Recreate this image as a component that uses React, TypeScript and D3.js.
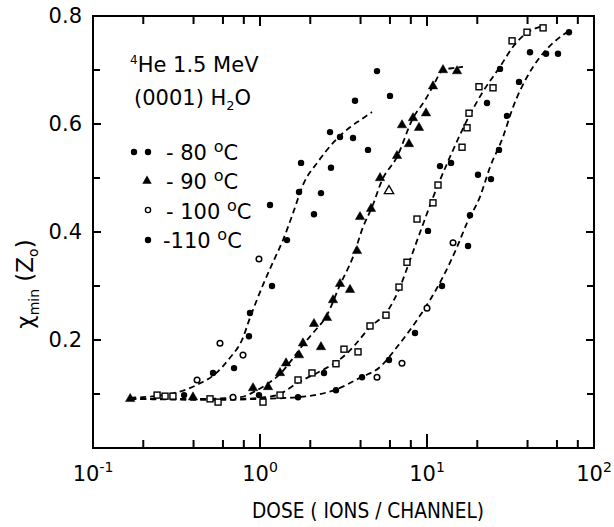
import React from 'react';
import * as d3 from 'd3';

const W = 614;
const H = 527;
const M = { left: 93, right: 20, top: 16, bottom: 79 };

const X_DOMAIN: [number, number] = [0.1, 100];
const Y_DOMAIN: [number, number] = [0, 0.8];
const X_MAJOR = [0.1, 1, 10, 100];
const X_MAJOR_EXP = ['-1', '0', '1', '2'];
const X_MINOR = [0.2, 0.4, 0.6, 0.8, 2, 4, 6, 8, 20, 40, 60, 80];
const Y_MAJOR = [0.2, 0.4, 0.6, 0.8];
const Y_LABELS = ['0.2', '0.4', '0.6', '0.8'];
const Y_MINOR = [0.1, 0.3, 0.5, 0.7];

const LEGEND_LABELS = ['- 80', '- 90', '- 100', '-110'];

// -80 °C (filled)
const m80: [number, number][] = [
  [0.351, 0.098], [0.523, 0.139], [0.699, 0.148], [0.859, 0.207], [0.871, 0.25],
  [1.18, 0.3], [1.148, 0.45], [1.451, 0.385], [1.713, 0.474], [2.318, 0.472],
  [2.105, 0.433], [1.761, 0.528], [2.661, 0.519], [2.626, 0.585], [3.013, 0.576],
  [3.706, 0.643], [3.606, 0.574], [4.433, 0.552], [5.02, 0.698], [6.004, 0.652],
];
// -80 °C (open)
const m80open: [number, number][] = [
  [0.42, 0.126], [0.576, 0.194], [0.791, 0.172], [0.986, 0.35], [0.689, 0.094],
];
// -90 °C (triangles)
const m90: [number, number][] = [
  [0.167, 0.091], [0.397, 0.094], [0.908, 0.111], [1.117, 0.113], [1.318, 0.139],
  [1.432, 0.157], [1.713, 0.172], [1.808, 0.194], [2.318, 0.187], [2.105, 0.23],
  [2.518, 0.241], [2.736, 0.274], [3.013, 0.304], [3.459, 0.293], [3.81, 0.365],
  [3.971, 0.428], [4.621, 0.443], [5.233, 0.5], [6.612, 0.541], [7.8, 0.563],
  [7.083, 0.598], [8.957, 0.593], [8.245, 0.611], [9.864, 0.62], [10.86, 0.67],
  [12.47, 0.7], [15.13, 0.698],
];
const m90open: [number, number][] = [[5.922, 0.476]];
// -100 °C (open squares)
const m100: [number, number][] = [
  [0.242, 0.098], [0.27, 0.096], [0.301, 0.096], [0.502, 0.091], [0.561, 0.085],
  [1.042, 0.085], [1.318, 0.098], [1.689, 0.126], [2.048, 0.139],
  [2.851, 0.156], [3.184, 0.183], [3.863, 0.178], [4.557, 0.226], [5.681, 0.246],
  [6.797, 0.298], [7.589, 0.344], [8.713, 0.424], [10.86, 0.454], [11.64, 0.487],
  [16.21, 0.557], [17.37, 0.593], [17.85, 0.62], [20.48, 0.669], [24.85, 0.667],
  [32.31, 0.754], [39.7, 0.77], [49.55, 0.778],
];
const m100filled: [number, number][] = [
  [0.986, 0.098], [2.417, 0.139], [10.14, 0.402], [11.96, 0.522], [13.93, 0.528],
  [22.87, 0.639], [27.36, 0.702],
];
// -110 °C (filled)
const m110: [number, number][] = [
  [1.689, 0.094], [2.851, 0.107], [4.083, 0.131], [5.922, 0.163], [8.476, 0.213],
  [12.3, 0.3], [17.61, 0.374], [18.09, 0.431], [24.17, 0.498], [20.2, 0.506],
  [26.98, 0.552], [30.14, 0.615], [35.56, 0.678], [41.38, 0.733], [51.64, 0.73],
  [60.87, 0.73], [70.83, 0.77],
];
const m110open: [number, number][] = [
  [5.02, 0.131], [7.083, 0.157], [10.0, 0.259], [14.32, 0.38],
];

// Dashed fit curves
const c80: [number, number][] = [
  [0.167, 0.093], [0.289, 0.1], [0.42, 0.117], [0.538, 0.137], [0.661, 0.167],
  [0.78, 0.2], [0.871, 0.241], [1.042, 0.302], [1.196, 0.344], [1.373, 0.385],
  [1.577, 0.435], [1.808, 0.487], [2.224, 0.53], [2.736, 0.565], [3.459, 0.594],
  [3.971, 0.607], [4.685, 0.622],
];
const c90: [number, number][] = [
  [0.167, 0.091], [0.437, 0.091], [0.759, 0.094], [0.959, 0.107], [1.148, 0.122],
  [1.318, 0.137], [1.513, 0.159], [1.808, 0.191], [2.076, 0.213], [2.518, 0.246],
  [3.013, 0.302], [3.606, 0.354], [4.137, 0.409], [4.685, 0.446], [5.38, 0.496],
  [6.612, 0.539], [8.245, 0.611], [9.73, 0.644], [10.86, 0.67], [12.47, 0.7],
  [14.71, 0.704], [16.43, 0.706],
];
const c100: [number, number][] = [
  [0.167, 0.091], [0.759, 0.091], [1.071, 0.094], [1.318, 0.1], [1.665, 0.12],
  [2.194, 0.139], [2.626, 0.152], [3.228, 0.172], [3.706, 0.191], [4.557, 0.224],
  [5.757, 0.252], [6.891, 0.298], [7.91, 0.348], [9.33, 0.409], [10.71, 0.459],
  [11.96, 0.496], [13.73, 0.539], [17.37, 0.607], [21.34, 0.657], [27.36, 0.706],
  [32.73, 0.743], [39.7, 0.769], [47.5, 0.78],
];
const c110: [number, number][] = [
  [0.167, 0.091], [0.576, 0.089], [1.0, 0.091], [1.665, 0.094], [2.891, 0.109],
  [3.971, 0.13], [5.233, 0.15], [6.612, 0.187], [8.713, 0.237], [10.42, 0.274],
  [12.47, 0.317], [15.13, 0.372], [17.37, 0.417], [20.75, 0.465], [23.84, 0.52],
  [28.51, 0.576], [32.73, 0.631], [39.7, 0.687], [47.5, 0.724], [56.81, 0.75],
  [68.87, 0.77],
];

const FONT = "'DejaVu Sans', sans-serif";

export default function App() {
  const x = d3.scaleLog().domain(X_DOMAIN).range([M.left, W - M.right]);
  const y = d3.scaleLinear().domain(Y_DOMAIN).range([H - M.bottom, M.top]);
  const line = d3
    .line<[number, number]>()
    .x((d) => x(d[0]))
    .y((d) => y(d[1]))
    .curve(d3.curveMonotoneX);
  const tri = d3.symbol().type(d3.symbolTriangle).size(38)() as string;

  const x0 = M.left, x1 = W - M.right, y0 = H - M.bottom, y1 = M.top;

  const filled = (pts: [number, number][], key: string) =>
    pts.map((d, i) => <circle key={key + i} cx={x(d[0])} cy={y(d[1])} r={3.2} fill="#000" />);
  const open = (pts: [number, number][], key: string) =>
    pts.map((d, i) => (
      <circle key={key + i} cx={x(d[0])} cy={y(d[1])} r={2.8} fill="#fff" stroke="#000" strokeWidth={1.5} />
    ));
  const squares = (pts: [number, number][], key: string) =>
    pts.map((d, i) => (
      <rect key={key + i} x={x(d[0]) - 3} y={y(d[1]) - 3} width={6} height={6} fill="#fff" stroke="#000" strokeWidth={1.4} />
    ));
  const tris = (pts: [number, number][], key: string, hollow = false) =>
    pts.map((d, i) => (
      <path
        key={key + i}
        d={tri}
        transform={`translate(${x(d[0])},${y(d[1])})`}
        fill={hollow ? '#fff' : '#000'}
        stroke="#000"
        strokeWidth={hollow ? 1.3 : 0.5}
      />
    ));

  return (
    <svg
      width={W}
      height={H}
      style={{ position: 'absolute', left: 0, top: 0, background: '#fff' }}
      fontFamily={FONT}
    >
      <rect x={0} y={0} width={W} height={H} fill="#fff" />
      {/* frame */}
      <rect x={x0} y={y1} width={x1 - x0} height={y0 - y1} fill="none" stroke="#000" strokeWidth={2} />
      {/* x ticks */}
      {X_MAJOR.map((v, i) => (
        <g key={'xm' + i}>
          <line x1={x(v)} x2={x(v)} y1={y0} y2={y0 - 14} stroke="#000" strokeWidth={2} />
          <line x1={x(v)} x2={x(v)} y1={y1} y2={y1 + 10} stroke="#000" strokeWidth={2} />
          <text x={x(v)} y={y0 + 33} textAnchor="middle" fontSize={21}>
            10<tspan dy={-9} fontSize={14}>{X_MAJOR_EXP[i]}</tspan>
          </text>
        </g>
      ))}
      {X_MINOR.map((v, i) => (
        <g key={'xn' + i}>
          <line x1={x(v)} x2={x(v)} y1={y0} y2={y0 - 8} stroke="#000" strokeWidth={2} />
          <line x1={x(v)} x2={x(v)} y1={y1} y2={y1 + 8} stroke="#000" strokeWidth={2} />
        </g>
      ))}
      {/* y ticks */}
      {Y_MAJOR.map((v, i) => (
        <g key={'ym' + i}>
          <line x1={x0} x2={x0 + 8} y1={y(v)} y2={y(v)} stroke="#000" strokeWidth={2} />
          <line x1={x1} x2={x1 - 8} y1={y(v)} y2={y(v)} stroke="#000" strokeWidth={2} />
          <text x={x0 - 11} y={y(v) + 7} textAnchor="end" fontSize={21}>
            {Y_LABELS[i]}
          </text>
        </g>
      ))}
      {Y_MINOR.map((v, i) => (
        <g key={'yn' + i}>
          <line x1={x0} x2={x0 + 7} y1={y(v)} y2={y(v)} stroke="#000" strokeWidth={2} />
          <line x1={x1} x2={x1 - 7} y1={y(v)} y2={y(v)} stroke="#000" strokeWidth={2} />
        </g>
      ))}
      {/* axis titles */}
      <text x={368} y={518} textAnchor="middle" fontSize={21} textLength={232} lengthAdjust="spacingAndGlyphs">
        DOSE ( IONS / CHANNEL)
      </text>
      <text transform={`translate(33,${284}) rotate(-90)`} textAnchor="middle" fontSize={23}>
        χ<tspan dy={6} fontSize={14}>min</tspan>
        <tspan dy={-6}> (Z</tspan>
        <tspan dy={5} fontSize={14}>o</tspan>
        <tspan dy={-5}>)</tspan>
      </text>
      {/* annotation */}
      <text x={130} y={72} fontSize={21}>
        <tspan dy={-8} fontSize={12}>4</tspan>
        <tspan dy={8}>He 1.5  MeV</tspan>
      </text>
      <text x={134} y={105} fontSize={21}>
        (0001) H<tspan dy={5} fontSize={13}>2</tspan>
        <tspan dy={-5}>O</tspan>
      </text>
      {/* legend */}
      <circle cx={134} cy={152} r={3.2} fill="#000" />
      <circle cx={148} cy={152} r={3.2} fill="#000" />
      <path d={tri} transform="translate(147,181)" fill="#000" />
      <circle cx={148} cy={210} r={2.6} fill="#fff" stroke="#000" strokeWidth={1.4} />
      <circle cx={148} cy={240} r={3.2} fill="#000" />
      {LEGEND_LABELS.map((t, i) => (
        <text key={'lg' + i} x={i === 3 ? 163 : 166} y={160 + i * 29.3} fontSize={21}>
          {t} <tspan dy={-8} fontSize={16}>o</tspan>
          <tspan dy={8}>C</tspan>
        </text>
      ))}
      {/* curves */}
      {[c80, c90, c100, c110].map((c, i) => (
        <path key={'c' + i} d={line(c) as string} fill="none" stroke="#000" strokeWidth={1.8} strokeDasharray="6 4" />
      ))}
      {/* markers */}
      {filled(m80, 'a')}
      {open(m80open, 'b')}
      {tris(m90, 'c')}
      {tris(m90open, 'd', true)}
      {squares(m100, 'e')}
      {filled(m100filled, 'f')}
      {filled(m110, 'g')}
      {open(m110open, 'h')}
    </svg>
  );
}
